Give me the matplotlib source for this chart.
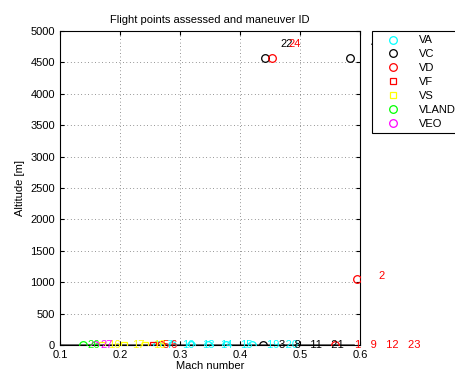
import matplotlib
matplotlib.use("Agg")
import matplotlib.pyplot as plt

plt.rcParams['font.family'] = ['Liberation Sans', 'DejaVu Sans']

# flight points: (mach, altitude [m], maneuver id label)
va_mach = [0.262, 0.286, 0.3176, 0.346, 0.377, 0.42]
va_alt = [0, 0, 0, 0, 0, 0]
va_lab = ["7", "10", "13", "14", "15", "19  20"]

vc_mach = [0.4417, 0.583, 0.438]
vc_alt = [4572, 4572, 0]
vc_lab = ["22", "4", "3   8   11   21"]

vd_mach = [0.453, 0.595, 0.268, 0.558]
vd_alt = [4572, 1050, 0, 0]
vd_lab = ["24", "2", "6", "1   9   12   23"]

vf_mach = [0.255]
vf_alt = [0]
vf_lab = ["5"]

vs_mach = [0.17, 0.207, 0.241]
vs_alt = [0, 0, 0]
vs_lab = ["16", "17", "18"]

vland_mach = [0.138]
vland_alt = [0]
vland_lab = ["26"]

veo_mach = [0.158]
veo_alt = [0]
veo_lab = ["27"]

ground_mach = [0.1, 0.59]
ground_alt = [0, 0]

series = [
    ("VA", va_mach, va_alt, va_lab, "o", "#00ffff"),
    ("VC", vc_mach, vc_alt, vc_lab, "o", "black"),
    ("VD", vd_mach, vd_alt, vd_lab, "o", "red"),
    ("VF", vf_mach, vf_alt, vf_lab, "s", "red"),
    ("VS", vs_mach, vs_alt, vs_lab, "s", "#ffff00"),
    ("VLAND", vland_mach, vland_alt, vland_lab, "o", "#00ff00"),
    ("VEO", veo_mach, veo_alt, veo_lab, "o", "#ff00ff"),
]

fig = plt.figure(figsize=(4.55, 3.76), dpi=100)
ax = fig.add_axes([0.132, 0.0824, 0.659, 0.8352])

ax.plot(ground_mach, ground_alt, color="#555555", lw=1.2, zorder=1)

for name, mx, alt, lab, mk, col in series:
    ax.plot(mx, alt, ls="none", marker=mk, mfc="none", mec=col, mew=0.9,
            ms=5.5 if mk == "o" else 5, label=name, zorder=3)
    for x, y, t in zip(mx, alt, lab):
        ax.text(x * 1.06, y * 1.05, t, color=col, fontsize=8,
                ha="left", va="center", clip_on=False, zorder=4)

ax.set_xlim(0.1, 0.6)
ax.set_ylim(0, 5000)
ax.set_xticks([0.1, 0.2, 0.3, 0.4, 0.5, 0.6])
ax.set_yticks(range(0, 5001, 500))
ax.tick_params(direction="in", top=True, right=True, labelsize=8, length=3)
ax.grid(True, color="#333333", ls=(0, (1, 4)), lw=0.5)
for s in ax.spines.values():
    s.set_linewidth(0.8)

ax.set_title("Flight points assessed and maneuver ID", fontsize=8)
ax.set_xlabel("Mach number", fontsize=8, labelpad=1)
ax.set_ylabel("Altitude [m]", fontsize=8)

leg = ax.legend(loc="upper left", bbox_to_anchor=(1.04, 1.0), fontsize=8,
                fancybox=False, edgecolor="black", framealpha=1,
                handlelength=3, handletextpad=0.8, borderpad=0.4,
                labelspacing=0.35, borderaxespad=0)
leg.get_frame().set_linewidth(0.8)
leg.set_zorder(10)

fig.savefig("out.png", dpi=100)
